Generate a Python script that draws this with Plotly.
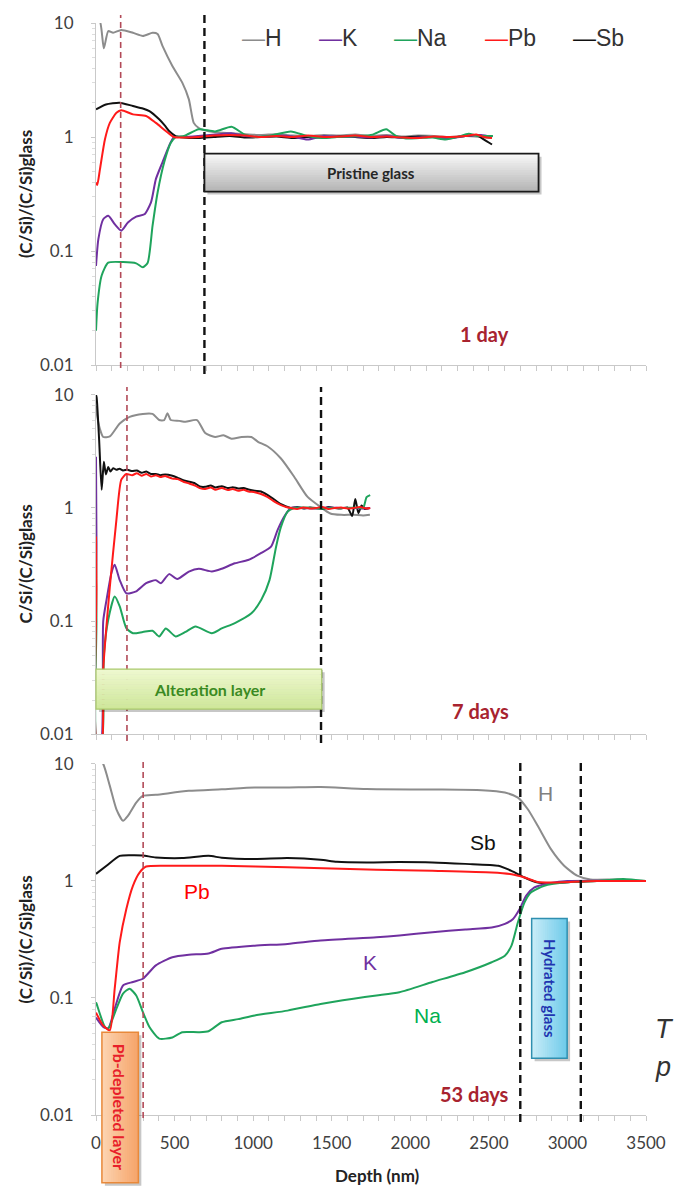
import plotly.graph_objects as go

# ---------------- data ----------------
series_names = ["H", "K", "Na", "Pb", "Sb"]
tick_vals_y = [0.01, 0.1, 1, 10]
tick_text_y = ["0.01", "0.1", "1", "10"]
depth_ticks = [0, 500, 1000, 1500, 2000, 2500, 3000, 3500]

# Panel 1 : 1 day
d1_x_H = [0, 25, 50, 78, 109, 161, 235, 298, 360, 392, 423, 486, 549, 591, 622, 654, 685, 760, 860, 950,
          1050, 1150, 1250, 1350, 1450, 1550, 1650, 1750, 1850, 1950, 2050, 2150, 2250, 2350, 2450, 2520]
d1_H = [10.5, 10.3, 6.0, 8.5, 8.2, 8.7, 8.2, 7.7, 8.2, 8.0, 6.3, 4.2, 3.0, 2.14, 1.33, 1.2, 1.15, 1.1, 1.08, 1.06,
        1.04, 1.06, 1.03, 1.02, 1.04, 1.03, 1.05, 1.02, 1.04, 1.01, 1.03, 1.02, 1.0, 1.02, 1.0, 0.98]
d1_x_Sb = [0, 63, 151, 235, 298, 340, 402, 440, 465, 507, 560, 650, 750, 850, 950, 1050, 1150, 1250, 1350, 1450,
           1550, 1650, 1750, 1850, 1950, 2050, 2150, 2250, 2350, 2420, 2470, 2520]
d1_Sb = [1.75, 1.93, 2.0, 1.87, 1.78, 1.69, 1.43, 1.25, 1.13, 1.02, 0.99, 0.98, 1.0, 1.02, 0.99, 1.0, 1.01, 0.98, 1.0, 0.99,
         1.01, 1.0, 0.98, 1.0, 0.99, 1.01, 1.0, 0.99, 1.02, 1.04, 0.95, 0.86]
d1_x_Pb = [0, 8, 25, 57, 88, 130, 161, 235, 319, 381, 444, 496, 560, 650, 750, 850, 950, 1050, 1150, 1250,
           1350, 1450, 1550, 1650, 1750, 1850, 1950, 2050, 2150, 2250, 2350, 2420, 2470, 2520]
d1_Pb = [0.40, 0.38, 0.52, 0.955, 1.33, 1.63, 1.72, 1.58, 1.53, 1.33, 1.13, 1.0, 0.99, 1.0, 1.03, 1.04, 1.03, 1.0, 1.02, 1.0,
         1.03, 1.0, 1.01, 1.03, 1.0, 1.01, 0.99, 0.98, 1.01, 1.0, 1.02, 1.05, 1.0, 0.98]
d1_x_K = [0, 15, 46, 78, 119, 161, 203, 256, 308, 350, 381, 423, 465, 496, 560, 650, 760, 860, 950, 1050,
          1150, 1250, 1345, 1450, 1550, 1650, 1750, 1850, 1950, 2050, 2150, 2250, 2350, 2450, 2520]
d1_K = [0.074, 0.127, 0.19, 0.204, 0.172, 0.151, 0.178, 0.20, 0.21, 0.267, 0.427, 0.60, 0.836, 1.0, 1.0, 1.02, 1.05, 1.08, 1.02, 1.0,
        1.03, 1.01, 0.95, 1.02, 1.0, 1.01, 0.99, 1.02, 0.98, 0.99, 1.0, 0.97, 1.02, 1.04, 1.0]
d1_x_Na = [0, 10, 36, 78, 172, 256, 298, 329, 360, 392, 434, 476, 507, 560, 654, 758, 863, 947, 1030, 1114,
           1240, 1345, 1440, 1533, 1680, 1760, 1847, 1910, 1973, 2060, 2141, 2225, 2300, 2371, 2430, 2476, 2526]
d1_Na = [0.02, 0.035, 0.061, 0.079, 0.08, 0.078, 0.072, 0.079, 0.167, 0.326, 0.60, 0.89, 1.0, 1.02, 1.17, 1.12, 1.23, 1.05, 1.0, 1.03,
         1.12, 1.02, 0.98, 1.0, 1.02, 1.05, 1.17, 1.02, 0.97, 0.98, 0.99, 0.95, 1.0, 1.07, 1.02, 1.02, 1.02]

# Panel 2 : 7 days
d2_x_H = [0, 4, 25, 46, 88, 151, 214, 298, 360, 402, 434, 455, 476, 530, 570, 643, 695, 758, 811, 863,
          926, 989, 1031, 1093, 1177, 1261, 1345, 1429, 1491, 1560, 1638, 1700, 1743]
d2_H = [8.0, 7.0, 5.0, 4.25, 4.3, 5.6, 6.4, 6.8, 6.8, 6.0, 6.0, 6.9, 6.0, 5.9, 5.8, 6.0, 4.6, 4.25, 4.4, 4.1,
        4.25, 4.25, 3.85, 3.5, 2.74, 1.89, 1.26, 1.02, 0.895, 0.87, 0.87, 0.86, 0.87]
d2_x_Sb = [0, 4, 20, 36, 50, 63, 78, 92, 109, 130, 150, 172, 200, 230, 260, 290, 320, 350, 381, 410,
           440, 486, 520, 560, 591, 630, 660, 695, 730, 760, 800, 840, 870, 905, 940, 970, 1010, 1050, 1093, 1130,
           1177, 1210, 1240, 1280, 1320, 1360, 1400, 1440, 1480, 1520, 1560, 1600, 1630, 1650, 1670, 1690, 1710, 1740]
d2_Sb = [10, 9.5, 4.0, 1.45, 2.57, 1.98, 2.3, 2.1, 2.25, 2.18, 2.22, 2.15, 2.18, 2.12, 2.15, 2.05, 2.1, 2.0, 2.0, 1.95,
         1.98, 1.93, 1.85, 1.75, 1.71, 1.65, 1.55, 1.54, 1.58, 1.52, 1.56, 1.5, 1.53, 1.49, 1.5, 1.46, 1.42, 1.4, 1.3, 1.2,
         1.08, 1.03, 1.0, 1.02, 0.99, 1.01, 1.0, 0.98, 1.02, 1.0, 0.99, 1.01, 0.85, 1.2, 0.9, 1.05, 0.98, 1.0]
d2_x_Pb = [0, 3, 6, 35, 46, 88, 130, 161, 193, 230, 260, 290, 320, 350, 381, 410, 440, 486, 520, 560,
           591, 630, 660, 695, 730, 760, 800, 840, 870, 905, 940, 970, 1010, 1050, 1093, 1130, 1177, 1210, 1240, 1280,
           1320, 1360, 1400, 1440, 1480, 1520, 1560, 1600, 1640, 1680, 1720, 1745]
d2_Pb = [0.56, 0.2, 0.008, 0.008, 0.037, 0.2, 0.79, 1.78, 2.0, 1.95, 2.03, 1.93, 2.0, 1.9, 1.95, 1.88, 1.92, 1.82, 1.8, 1.7,
         1.65, 1.58, 1.5, 1.47, 1.52, 1.45, 1.5, 1.44, 1.47, 1.42, 1.45, 1.4, 1.38, 1.33, 1.25, 1.15, 1.06, 1.02, 1.0, 0.98,
         1.01, 0.99, 1.0, 1.02, 0.98, 1.0, 1.01, 0.99, 1.0, 1.02, 0.99, 1.0]
d2_x_K = [0, 3, 6, 30, 46, 67, 98, 119, 151, 193, 256, 319, 381, 413, 465, 517, 591, 654, 737, 800,
          884, 968, 1052, 1114, 1156, 1198, 1240, 1320, 1400, 1480, 1560, 1640, 1700, 1745]
d2_K = [2.84, 0.5, 0.008, 0.008, 0.1, 0.154, 0.265, 0.314, 0.23, 0.176, 0.183, 0.216, 0.23, 0.216, 0.26, 0.235, 0.274, 0.29, 0.274, 0.29,
        0.324, 0.347, 0.40, 0.455, 0.64, 0.84, 1.0, 1.0, 0.99, 1.01, 1.0, 1.0, 0.99, 1.0]
d2_x_Na = [0, 3, 6, 35, 50, 78, 119, 151, 193, 235, 298, 360, 402, 444, 507, 570, 633, 737, 800, 884,
           989, 1052, 1104, 1146, 1177, 1219, 1261, 1340, 1420, 1500, 1580, 1660, 1700, 1722, 1745]
d2_Na = [0.55, 0.1, 0.008, 0.008, 0.05, 0.103, 0.165, 0.135, 0.0865, 0.078, 0.08, 0.082, 0.073, 0.086, 0.073, 0.08, 0.0895, 0.078, 0.086, 0.096,
         0.117, 0.154, 0.23, 0.455, 0.68, 0.93, 1.0, 1.01, 0.99, 1.0, 1.0, 1.01, 1.0, 1.25, 1.3]

# Panel 3 : 53 days
d3_x_H = [0, 46, 88, 130, 172, 203, 256, 298, 381, 591, 800, 1010, 1219, 1429, 1722, 2141, 2455, 2602, 2685, 2748,
          2811, 2895, 2979, 3062, 3146, 3314, 3500]
d3_H = [12, 10, 6.5, 4.1, 3.27, 3.6, 4.68, 5.33, 5.45, 5.89, 6.08, 6.3, 6.3, 6.35, 6.1, 6.05, 5.97, 5.7, 5.16, 4.1,
        2.96, 1.87, 1.35, 1.11, 1.03, 1.03, 1.0]
d3_x_Sb = [0, 67, 151, 235, 298, 381, 549, 716, 800, 1010, 1219, 1429, 1533, 1722, 1930, 2141, 2350, 2560, 2644, 2727,
           2811, 2895, 3021, 3188, 3500]
d3_Sb = [1.15, 1.35, 1.64, 1.66, 1.65, 1.59, 1.57, 1.64, 1.58, 1.54, 1.57, 1.52, 1.46, 1.44, 1.45, 1.44, 1.40, 1.35, 1.22, 1.07,
         0.97, 0.96, 0.98, 1.0, 1.0]
d3_x_Pb = [0, 46, 88, 119, 151, 193, 235, 277, 319, 486, 800, 1219, 1785, 2141, 2518, 2644, 2727, 2811, 2895, 3188, 3500]
d3_Pb = [0.075, 0.058, 0.053, 0.12, 0.30, 0.577, 0.91, 1.18, 1.33, 1.35, 1.35, 1.31, 1.25, 1.22, 1.18, 1.14, 1.07, 0.98, 0.97, 1.0, 1.0]
d3_x_K = [0, 46, 78, 119, 172, 235, 298, 381, 486, 591, 716, 800, 1010, 1219, 1429, 1785, 1931, 2141, 2350, 2518,
          2602, 2654, 2696, 2738, 2790, 2895, 3000, 3500]
d3_K = [0.068, 0.0565, 0.055, 0.081, 0.128, 0.137, 0.146, 0.19, 0.223, 0.234, 0.24, 0.263, 0.28, 0.29, 0.31, 0.33, 0.342, 0.365, 0.385, 0.40,
        0.43, 0.474, 0.577, 0.75, 0.88, 0.96, 1.0, 1.0]
d3_x_Na = [0, 4, 57, 78, 130, 172, 214, 256, 298, 340, 402, 486, 549, 654, 716, 800, 905, 1010, 1219, 1429,
           1638, 1785, 1931, 2141, 2350, 2518, 2602, 2644, 2685, 2727, 2769, 2853, 2979, 3188, 3356, 3500]
d3_Na = [0.092, 0.089, 0.0565, 0.055, 0.081, 0.109, 0.12, 0.105, 0.076, 0.0565, 0.045, 0.046, 0.051, 0.051, 0.052, 0.062, 0.066, 0.071, 0.078, 0.089,
         0.0986, 0.105, 0.112, 0.137, 0.166, 0.202, 0.23, 0.28, 0.444, 0.656, 0.80, 0.91, 0.97, 1.0, 1.04, 1.0]

panel_labels = ["1 day", "7 days", "53 days"]
y_titles = ["(C/Si)/(C/Si)glass", "C/Si/(C/Si)glass", "(C/Si)/(C/Si)glass"]

# ---------------- style ----------------
COLORS = {"H": "#8c8c8c", "K": "#7030a0", "Na": "#1fa45c", "Pb": "#ff1a1a", "Sb": "#111111"}
W, H = 678, 1188
PL, PR, PT, PB = 96, 654, 20, 1115   # plot-area pixel box


def xp(p):
    return (p - PL) / (PR - PL)


def yp(p):
    return (PB - p) / (PB - PT)


panels = [
    dict(x={"H": d1_x_H, "K": d1_x_K, "Na": d1_x_Na, "Pb": d1_x_Pb, "Sb": d1_x_Sb},
         y={"H": d1_H, "K": d1_K, "Na": d1_Na, "Pb": d1_Pb, "Sb": d1_Sb}, top=20, bot=363),
    dict(x={"H": d2_x_H, "K": d2_x_K, "Na": d2_x_Na, "Pb": d2_x_Pb, "Sb": d2_x_Sb},
         y={"H": d2_H, "K": d2_K, "Na": d2_Na, "Pb": d2_Pb, "Sb": d2_Sb}, top=393, bot=733),
    dict(x={"H": d3_x_H, "K": d3_x_K, "Na": d3_x_Na, "Pb": d3_x_Pb, "Sb": d3_x_Sb},
         y={"H": d3_H, "K": d3_K, "Na": d3_Na, "Pb": d3_Pb, "Sb": d3_Sb}, top=763, bot=1115),
]

fig = go.Figure()
draw_order = ["H", "Sb", "K", "Na", "Pb"]
for i, p in enumerate(panels):
    sfx = "" if i == 0 else str(i + 1)
    for name in draw_order:
        assert len(p["x"][name]) == len(p["y"][name]), (i, name)
        fig.add_trace(go.Scatter(
            x=p["x"][name], y=p["y"][name], mode="lines", name=name,
            line=dict(color=COLORS[name], width=2, shape="spline", smoothing=0.6),
            xaxis="x" + sfx, yaxis="y" + sfx, showlegend=False, hoverinfo="skip"))

minor_vals = [m * 10 ** e for e in (-2, -1, 0) for m in range(2, 10)]
AXC = "#c9c9c9"
layout = dict(
    width=W, height=H, margin=dict(l=PL, r=W - PR, t=PT, b=H - PB),
    paper_bgcolor="white", plot_bgcolor="white", showlegend=False,
    font=dict(family="Lato, Liberation Sans, sans-serif", color="#404040"),
)
for i, p in enumerate(panels):
    sfx = "" if i == 0 else str(i + 1)
    layout["xaxis" + sfx] = dict(
        range=[0, 3500], anchor="y" + sfx, domain=[0, 1],
        showline=True, linecolor=AXC, linewidth=1, ticks="outside", ticklen=5, tickcolor=AXC,
        tickvals=depth_ticks, ticktext=[str(v) for v in depth_ticks],
        minor=dict(dtick=100, tick0=0, ticks="outside", ticklen=5, tickcolor=AXC, showgrid=False),
        showgrid=False, zeroline=False, showticklabels=(i == 2),
        tickfont=dict(family="Lato", size=17, color="#404040"), ticklabelstandoff=8)
    layout["yaxis" + sfx] = dict(
        type="log", range=[-2, 1], anchor="x" + sfx, domain=[yp(p["bot"]), yp(p["top"])],
        showline=True, linecolor=AXC, linewidth=1, ticks="outside", ticklen=4, tickcolor=AXC,
        tickvals=tick_vals_y, ticktext=tick_text_y,
        minor=dict(tickvals=minor_vals, ticks="outside", ticklen=3, tickcolor="#dddddd", showgrid=False),
        showgrid=False, zeroline=False,
        tickfont=dict(family="Lato", size=17, color="#404040"), ticklabelstandoff=14)

shapes = []
annotations = []


def vdash(xval, sfx, y_top, y_bot, color, width, dash):
    shapes.append(dict(type="line", xref="x" + sfx, yref="paper", x0=xval, x1=xval,
                       y0=yp(y_bot), y1=yp(y_top), line=dict(color=color, width=width, dash=dash),
                       layer="above"))


RED_D = "#b24a58"
vdash(157, "", 12, 366, RED_D, 1.6, "6px,4px")
vdash(690, "", 12, 372, "#111111", 2.4, "8px,5px")
vdash(197, "2", 385, 740, RED_D, 1.6, "6px,4px")
vdash(1432, "2", 385, 742, "#111111", 2.4, "8px,5px")
vdash(300, "3", 760, 1118, RED_D, 1.6, "6px,4px")
vdash(2700, "3", 760, 1122, "#111111", 2.4, "8px,5px")
vdash(3085, "3", 760, 1122, "#111111", 2.4, "8px,5px")


def mix(c1, c2, t):
    a = [int(c1[k:k + 2], 16) for k in (1, 3, 5)]
    b = [int(c2[k:k + 2], 16) for k in (1, 3, 5)]
    return "#%02x%02x%02x" % tuple(round(a[j] + (b[j] - a[j]) * t) for j in range(3))


def gbox(x0, y0, x1, y1, c0, c1, border, bw, horiz=False, n=16):
    # shadow
    shapes.append(dict(type="rect", xref="paper", yref="paper", x0=xp(x0 + 3), x1=xp(x1 + 3),
                       y0=yp(y1 + 3), y1=yp(y0 + 3), fillcolor="rgba(0,0,0,0.22)",
                       line=dict(width=0), layer="above"))
    for k in range(n):
        c = mix(c0, c1, k / (n - 1))
        if horiz:
            a = x0 + (x1 - x0) * k / n
            b = x0 + (x1 - x0) * (k + 1) / n + 0.6
            shapes.append(dict(type="rect", xref="paper", yref="paper", x0=xp(a), x1=xp(min(b, x1)),
                               y0=yp(y1), y1=yp(y0), fillcolor=c, line=dict(width=0), layer="above"))
        else:
            a = y0 + (y1 - y0) * k / n
            b = y0 + (y1 - y0) * (k + 1) / n + 0.6
            shapes.append(dict(type="rect", xref="paper", yref="paper", x0=xp(x0), x1=xp(x1),
                               y0=yp(min(b, y1)), y1=yp(a), fillcolor=c, line=dict(width=0), layer="above"))
    shapes.append(dict(type="rect", xref="paper", yref="paper", x0=xp(x0), x1=xp(x1),
                       y0=yp(y1), y1=yp(y0), fillcolor="rgba(0,0,0,0)",
                       line=dict(color=border, width=bw), layer="above"))


def text(xpx, ypx, s, size, color, bold=False, family="Lato", angle=0, italic=False, anchor="center"):
    if bold:
        s = "<b>" + s + "</b>"
    if italic:
        s = "<i>" + s + "</i>"
    annotations.append(dict(xref="paper", yref="paper", x=xp(xpx), y=yp(ypx), text=s, showarrow=False,
                            xanchor=anchor, yanchor="middle", textangle=angle,
                            font=dict(family=family, size=size, color=color)))


# boxes
gbox(206, 151, 545, 189, "#f7f7f7", "#b5b5b5", "#1a1a1a", 1.8)
text(375, 170, "Pristine glass", 15, "#262626", bold=True)
gbox(96, 668, 325, 708, "#eef8cf", "#cfe79a", "#a9c96b", 1.2)
text(211, 688, "Alteration layer", 16, "#3a8a22", bold=True)
gbox(538, 918, 574, 1058, "#c8ecf8", "#6fcbea", "#2f8fb0", 1.5, horiz=True)
text(556, 988, "Hydrated glass", 15, "#1f35b0", bold=True, angle=90)
gbox(102, 1032, 139, 1183, "#fcd3b0", "#f6a56a", "#e8893a", 1.5, horiz=True)
text(120.5, 1107, "Pb-depleted layer", 16, "#e8202a", bold=True, angle=90)

# legend (panel 1)
leg_pos = {"H": 242, "K": 320, "Na": 396, "Pb": 489, "Sb": 578}
for name in series_names:
    text(leg_pos[name], 35, "<span style='color:%s'>—</span>%s" % (COLORS[name], name), 23, "#333333",
         family="Liberation Sans", anchor="left")

# panel labels
for lbl, ypos in zip(panel_labels, [332, 710, 1094]):
    text(517, ypos, lbl, 20, "#a8232f", bold=True, anchor="right")

# series labels in panel 3
lab3 = {"H": (552, 793), "Sb": (489, 842), "Pb": (198, 891), "K": (374, 962), "Na": (432, 1015)}
lab3_col = {"H": "#808080", "Sb": "#111111", "Pb": "#ff0000", "K": "#7030a0", "Na": "#00b050"}
for name, (a, b) in lab3.items():
    text(a, b, name, 21, lab3_col[name], family="Liberation Sans")

# axis titles
for t, p in zip(y_titles, panels):
    text(24, (p["top"] + p["bot"]) / 2, t, 17, "#222222", bold=True, angle=-90)
text(382, 1176, "Depth (nm)", 17, "#222222", bold=True)

# text fragments at the right edge (partially outside the original crop)
text(661, 1029, "T", 27, "#333333", family="Liberation Sans", italic=True, anchor="left")
text(661, 1067, "p", 27, "#333333", family="Liberation Sans", italic=True, anchor="left")

layout["shapes"] = shapes
layout["annotations"] = annotations
fig.update_layout(**layout)
fig.write_html("out.html")
